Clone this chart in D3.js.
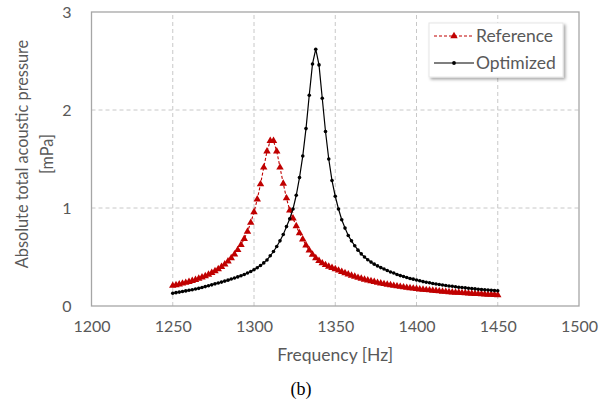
<!DOCTYPE html>
<html>
<head>
<meta charset="utf-8">
<script src="https://cdn.jsdelivr.net/npm/d3@7/dist/d3.min.js"></script>
<style>
  body { margin: 0; background: #fff; }
  svg { display: block; }
</style>
</head>
<body>
<div id="chart"></div>
<script>
const freq = [1250, 1252, 1254, 1256, 1258, 1260, 1262, 1264, 1266, 1268,
  1270, 1272, 1274, 1276, 1278, 1280, 1282, 1284, 1286, 1288,
  1290, 1292, 1294, 1296, 1298, 1300, 1302, 1304, 1306, 1308,
  1310, 1312, 1314, 1316, 1318, 1320, 1322, 1324, 1326, 1328,
  1330, 1332, 1334, 1336, 1338, 1340, 1342, 1344, 1346, 1348,
  1350, 1352, 1354, 1356, 1358, 1360, 1362, 1364, 1366, 1368,
  1370, 1372, 1374, 1376, 1378, 1380, 1382, 1384, 1386, 1388,
  1390, 1392, 1394, 1396, 1398, 1400, 1402, 1404, 1406, 1408,
  1410, 1412, 1414, 1416, 1418, 1420, 1422, 1424, 1426, 1428,
  1430, 1432, 1434, 1436, 1438, 1440, 1442, 1444, 1446, 1448, 1450];

const reference = [0.207, 0.214, 0.222, 0.230, 0.238, 0.247, 0.257, 0.268, 0.279, 0.292,
  0.306, 0.321, 0.338, 0.356, 0.377, 0.400, 0.426, 0.455, 0.489, 0.527,
  0.572, 0.624, 0.686, 0.760, 0.850, 0.958, 1.088, 1.243, 1.414, 1.578,
  1.685, 1.685, 1.578, 1.414, 1.250, 1.100, 0.975, 0.895, 0.815, 0.745,
  0.680, 0.620, 0.568, 0.525, 0.490, 0.460, 0.437, 0.419, 0.403, 0.389,
  0.376, 0.363, 0.348, 0.335, 0.323, 0.310, 0.300, 0.289, 0.279, 0.269,
  0.262, 0.254, 0.246, 0.238, 0.231, 0.225, 0.218, 0.213, 0.207, 0.202,
  0.197, 0.192, 0.187, 0.183, 0.179, 0.175, 0.171, 0.167, 0.164, 0.161,
  0.157, 0.154, 0.151, 0.148, 0.146, 0.143, 0.140, 0.138, 0.136, 0.133,
  0.131, 0.129, 0.127, 0.125, 0.123, 0.121, 0.119, 0.117, 0.116, 0.114, 0.112];

const optimized = [0.130, 0.136, 0.142, 0.148, 0.154, 0.160, 0.166, 0.173, 0.180, 0.189,
  0.198, 0.207, 0.216, 0.226, 0.235, 0.244, 0.254, 0.264, 0.275, 0.286,
  0.297, 0.309, 0.322, 0.337, 0.352, 0.370, 0.390, 0.413, 0.440, 0.470,
  0.512, 0.556, 0.607, 0.665, 0.730, 0.810, 0.890, 0.990, 1.130, 1.310,
  1.530, 1.810, 2.150, 2.470, 2.620, 2.460, 2.120, 1.780, 1.500, 1.280,
  1.120, 0.990, 0.880, 0.795, 0.720, 0.665, 0.615, 0.570, 0.532, 0.500,
  0.472, 0.448, 0.427, 0.409, 0.392, 0.377, 0.363, 0.347, 0.336, 0.322,
  0.310, 0.301, 0.291, 0.281, 0.274, 0.265, 0.257, 0.249, 0.242, 0.237,
  0.230, 0.224, 0.220, 0.214, 0.209, 0.204, 0.201, 0.196, 0.192, 0.189,
  0.185, 0.181, 0.178, 0.175, 0.171, 0.169, 0.166, 0.163, 0.161, 0.158, 0.155];

const xTicks = [1200, 1250, 1300, 1350, 1400, 1450, 1500];
const yTicks = [0, 1, 2, 3];
const seriesNames = ["Reference", "Optimized"];

const W = 611, H = 403;
const margin = { top: 12, right: 32, bottom: 97, left: 91.5 };
const font = "Lato, 'Open Sans', sans-serif";
const textColor = "#595959";
const red = "#c00000";

const svg = d3.select("#chart").append("svg")
    .attr("width", W)
    .attr("height", H);

const defs = svg.append("defs");
const shadow = defs.append("filter").attr("id", "shadow")
    .attr("x", "-10%").attr("y", "-10%").attr("width", "130%").attr("height", "140%");
shadow.append("feDropShadow")
    .attr("dx", 2).attr("dy", 2).attr("stdDeviation", 1.5)
    .attr("flood-color", "#000").attr("flood-opacity", 0.35);

const x = d3.scaleLinear()
    .domain([1200, 1500])
    .range([margin.left, W - margin.right]);

const y = d3.scaleLinear()
    .domain([0, 3])
    .range([H - margin.bottom, margin.top]);

// grid
svg.append("g")
    .selectAll("line")
    .data(xTicks.slice(1, -1))
    .enter()
    .append("line")
    .attr("x1", d => x(d)).attr("x2", d => x(d))
    .attr("y1", y(0)).attr("y2", y(3))
    .attr("stroke", "#c8c8c8")
    .attr("stroke-dasharray", "4,3");

svg.append("g")
    .selectAll("line")
    .data(yTicks.slice(1, -1))
    .enter()
    .append("line")
    .attr("x1", x(1200)).attr("x2", x(1500))
    .attr("y1", d => y(d)).attr("y2", d => y(d))
    .attr("stroke", "#c8c8c8")
    .attr("stroke-dasharray", "4,3");

// plot border
svg.append("rect")
    .attr("x", x(1200))
    .attr("y", y(3))
    .attr("width", x(1500) - x(1200))
    .attr("height", y(0) - y(3))
    .attr("fill", "none")
    .attr("stroke", "#a6a6a6")
    .attr("stroke-width", 1.3);

// axes (labels only)
const xAxis = svg.append("g")
    .attr("transform", `translate(0,${y(0)})`)
    .call(d3.axisBottom(x).tickValues(xTicks).tickSize(0).tickPadding(15).tickFormat(d3.format("d")));
xAxis.select(".domain").remove();
xAxis.selectAll("text")
    .style("font-family", font)
    .style("font-size", "16px")
    .attr("fill", textColor);

const yAxis = svg.append("g")
    .attr("transform", `translate(${x(1200)},0)`)
    .call(d3.axisLeft(y).tickValues(yTicks).tickSize(0).tickPadding(20).tickFormat(d3.format("d")));
yAxis.select(".domain").remove();
yAxis.selectAll("text")
    .style("font-family", font)
    .style("font-size", "16px")
    .attr("fill", textColor);

// axis titles
svg.append("text")
    .attr("x", (x(1200) + x(1500)) / 2)
    .attr("y", 361)
    .attr("text-anchor", "middle")
    .style("font-family", font)
    .style("font-size", "17.5px")
    .attr("fill", textColor)
    .text("Frequency [Hz]");

const yTitle = svg.append("text")
    .attr("transform", "translate(22,154) rotate(-90)")
    .attr("text-anchor", "middle")
    .style("font-family", font)
    .style("font-size", "16.3px")
    .attr("fill", textColor);
yTitle.append("tspan").attr("x", 0).attr("dy", "0.35em").text("Absolute total acoustic pressure");
yTitle.append("tspan").attr("x", 0).attr("dy", "1.55em").text("[mPa]");

svg.append("text")
    .attr("x", 301)
    .attr("y", 395)
    .attr("text-anchor", "middle")
    .style("font-family", "'Liberation Serif', 'Times New Roman', serif")
    .style("font-size", "18px")
    .attr("fill", "#000")
    .text("(b)");

// series
const refData = freq.map((f, i) => ({ f: f, v: reference[i] }));
const optData = freq.map((f, i) => ({ f: f, v: optimized[i] }));

const line = d3.line()
    .x(d => x(d.f))
    .y(d => y(d.v));

svg.append("path")
    .datum(refData)
    .attr("d", line)
    .attr("fill", "none")
    .attr("stroke", red)
    .attr("stroke-width", 1.1)
    .attr("stroke-dasharray", "3,2");

const tri = d3.symbol().type(d3.symbolTriangle).size(24);
svg.append("g")
    .selectAll("path")
    .data(refData)
    .enter()
    .append("path")
    .attr("d", tri)
    .attr("transform", d => `translate(${x(d.f)},${y(d.v)})`)
    .attr("fill", red);

svg.append("path")
    .datum(optData)
    .attr("d", line)
    .attr("fill", "none")
    .attr("stroke", "#000")
    .attr("stroke-width", 1.2);

svg.append("g")
    .selectAll("circle")
    .data(optData)
    .enter()
    .append("circle")
    .attr("cx", d => x(d.f))
    .attr("cy", d => y(d.v))
    .attr("r", 1.8)
    .attr("fill", "#000");

// legend
const legend = svg.append("g");
legend.append("rect")
    .attr("x", 429)
    .attr("y", 23)
    .attr("width", 134)
    .attr("height", 54)
    .attr("fill", "#fff")
    .attr("stroke", "#e6e6e6")
    .attr("filter", "url(#shadow)");

const legendRows = legend.selectAll("g.row")
    .data(seriesNames)
    .enter()
    .append("g")
    .attr("class", "row")
    .attr("transform", (d, i) => `translate(434,${36 + i * 27})`);

legendRows.append("line")
    .attr("x1", 0).attr("x2", 40)
    .attr("y1", 0).attr("y2", 0)
    .attr("stroke", (d, i) => i === 0 ? red : "#000")
    .attr("stroke-width", (d, i) => i === 0 ? 1.1 : 1.2)
    .attr("stroke-dasharray", (d, i) => i === 0 ? "3,2" : null);

legendRows.filter((d, i) => i === 0)
    .append("path")
    .attr("d", tri)
    .attr("transform", "translate(20,0)")
    .attr("fill", red);

legendRows.filter((d, i) => i === 1)
    .append("circle")
    .attr("cx", 20)
    .attr("cy", 0)
    .attr("r", 1.9)
    .attr("fill", "#000");

legendRows.append("text")
    .attr("x", 42)
    .attr("y", 0)
    .attr("dy", "0.35em")
    .style("font-family", font)
    .style("font-size", "17.5px")
    .attr("fill", textColor)
    .text(d => d);
</script>
</body>
</html>
